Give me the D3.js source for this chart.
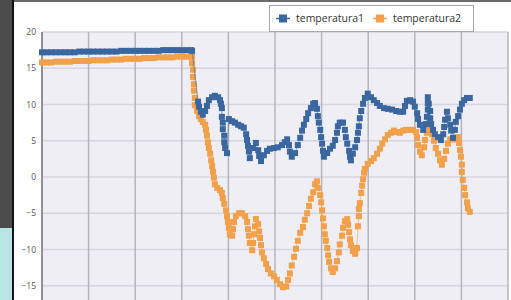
<!DOCTYPE html>
<meta charset="utf-8">

<head>
    <title>Temperatura</title>
</head>

<style>
    body { margin: 0; background: #fff; }
    svg { display: block; }
    text { font-family: "Open Sans", sans-serif; }
</style>

<body>
    <svg width="511" height="300"></svg>

    <script src="https://cdnjs.cloudflare.com/ajax/libs/d3/7.8.5/d3.min.js"></script>
    <script>
        var width = 511, height = 300

        var seriesNames = ['temperatura1', 'temperatura2']
        var yTicks = [20, 15, 10, 5, 0, -5, -10, -15]
        var xTicks = [0, 1, 2, 3, 4, 5, 6, 7, 8, 9, 10]

        // [time, value]
        var temp1 = [
            [0.0, 17.2], [0.1, 17.2], [0.2, 17.2], [0.3, 17.2], [0.4, 17.2], [0.5, 17.2], [0.6, 17.2],
            [0.7, 17.2], [0.8, 17.3], [0.9, 17.3], [1.0, 17.3], [1.1, 17.3], [1.2, 17.3], [1.3, 17.3],
            [1.4, 17.3], [1.5, 17.3], [1.6, 17.3], [1.7, 17.4], [1.8, 17.4], [1.9, 17.4], [2.0, 17.4],
            [2.1, 17.4], [2.2, 17.4], [2.3, 17.4], [2.4, 17.4], [2.5, 17.4], [2.6, 17.5], [2.7, 17.5],
            [2.8, 17.5], [2.9, 17.5], [3.0, 17.5], [3.1, 17.5], [3.2, 17.5], [3.22, 17.4],
            [3.35, 10.4], [3.37, 9.7], [3.41, 9.0], [3.45, 8.6], [3.50, 9.1], [3.54, 9.8], [3.58, 10.6],
            [3.65, 11.0], [3.71, 11.2], [3.78, 11.0], [3.82, 10.6], [3.84, 10.1], [3.86, 9.5],
            [3.86, 8.3], [3.88, 7.5], [3.88, 6.6], [3.91, 5.7], [3.91, 4.8], [3.93, 4.0], [3.97, 3.3],
            [4.01, 8.0], [4.08, 7.7], [4.14, 7.5], [4.21, 7.2], [4.27, 7.0], [4.33, 6.8], [4.38, 5.9],
            [4.40, 5.1], [4.42, 4.3], [4.44, 3.5], [4.46, 2.6], [4.53, 4.0], [4.59, 4.7], [4.64, 3.7],
            [4.66, 2.9], [4.70, 2.2], [4.76, 3.0], [4.83, 3.6], [4.89, 3.9], [4.98, 4.0], [5.06, 4.1],
            [5.15, 4.4], [5.21, 4.8], [5.26, 5.2], [5.30, 4.4], [5.32, 3.5], [5.36, 2.8], [5.43, 3.3],
            [5.49, 4.4], [5.54, 5.4], [5.58, 6.4], [5.62, 7.2], [5.67, 8.0], [5.71, 8.8], [5.77, 9.5],
            [5.82, 10.1], [5.86, 10.2], [5.90, 9.4], [5.92, 8.4], [5.94, 7.5], [5.97, 6.5], [5.99, 5.5],
            [6.01, 4.6], [6.03, 3.6], [6.05, 2.8], [6.12, 3.3], [6.18, 3.9], [6.24, 4.3], [6.29, 5.1],
            [6.33, 6.1], [6.35, 7.0], [6.39, 7.5], [6.46, 7.5], [6.50, 6.5], [6.52, 5.5], [6.55, 4.6],
            [6.59, 3.6], [6.61, 2.8], [6.63, 2.3], [6.67, 3.2], [6.72, 4.1], [6.76, 5.1], [6.78, 6.1],
            [6.80, 7.0], [6.82, 8.1], [6.85, 9.1], [6.89, 10.1], [6.93, 10.9], [6.99, 11.5], [7.06, 11.0],
            [7.12, 10.6], [7.19, 10.2], [7.25, 9.8], [7.34, 9.5], [7.42, 9.4], [7.51, 9.3], [7.60, 9.1],
            [7.68, 9.0], [7.75, 9.0], [7.79, 9.8], [7.83, 10.5], [7.90, 10.6], [7.96, 10.4], [8.00, 9.7],
            [8.05, 8.8], [8.07, 8.0], [8.11, 7.2], [8.18, 6.5], [8.24, 7.3], [8.26, 8.3], [8.28, 9.3],
            [8.28, 10.2], [8.28, 11.0], [8.30, 10.1], [8.33, 9.1], [8.33, 8.1], [8.35, 7.3], [8.39, 6.5],
            [8.43, 5.9], [8.50, 5.5], [8.56, 5.1], [8.61, 5.9], [8.63, 6.9], [8.65, 7.9], [8.69, 9.0],
            [8.71, 8.1], [8.76, 7.2], [8.78, 6.4], [8.82, 5.4], [8.86, 6.5], [8.88, 7.6], [8.93, 8.4],
            [8.97, 9.3], [9.01, 10.1], [9.06, 10.6], [9.12, 10.9], [9.18, 10.9]
        ]

        var temp2 = [
            [0.0, 15.8], [0.1, 15.8], [0.2, 15.8], [0.3, 15.9], [0.4, 15.9], [0.5, 15.9], [0.6, 15.9],
            [0.7, 16.0], [0.8, 16.0], [0.9, 16.0], [1.0, 16.0], [1.1, 16.1], [1.2, 16.1], [1.3, 16.1],
            [1.4, 16.1], [1.5, 16.2], [1.6, 16.2], [1.7, 16.2], [1.8, 16.3], [1.9, 16.3], [2.0, 16.3],
            [2.1, 16.3], [2.2, 16.4], [2.3, 16.4], [2.4, 16.4], [2.5, 16.5], [2.6, 16.5], [2.7, 16.5],
            [2.8, 16.5], [2.9, 16.6], [3.0, 16.6], [3.1, 16.6], [3.2, 16.6], [3.22, 16.6],
            [3.22, 15.7], [3.24, 14.8], [3.24, 13.8], [3.26, 12.8], [3.26, 11.9], [3.28, 10.9], [3.28, 9.9],
            [3.33, 9.1], [3.37, 8.4], [3.41, 8.0], [3.45, 7.6], [3.50, 7.2], [3.52, 6.5], [3.54, 5.7],
            [3.56, 4.8], [3.58, 4.0], [3.61, 3.2], [3.63, 2.3], [3.65, 1.5], [3.67, 0.7], [3.69, -0.1],
            [3.71, -1.0], [3.76, -1.5], [3.82, -1.8], [3.86, -2.2], [3.88, -2.9], [3.91, -3.7], [3.95, -4.6],
            [3.97, -5.4], [3.99, -6.2], [4.01, -7.0], [4.03, -7.9], [4.08, -8.1], [4.10, -7.2], [4.12, -6.2],
            [4.16, -5.4], [4.23, -5.0], [4.29, -5.0], [4.36, -5.4], [4.40, -6.2], [4.42, -7.2], [4.44, -8.1],
            [4.46, -9.1], [4.51, -10.1], [4.53, -9.1], [4.55, -7.9], [4.57, -6.8], [4.59, -5.8], [4.64, -6.5],
            [4.66, -7.5], [4.68, -8.4], [4.70, -9.4], [4.72, -10.4], [4.76, -11.2], [4.81, -12.0],
            [4.85, -12.7], [4.91, -13.3], [4.98, -13.7], [5.04, -14.2], [5.11, -14.8], [5.17, -15.2],
            [5.24, -15.1], [5.28, -14.2], [5.32, -13.3], [5.36, -12.2], [5.41, -11.0], [5.45, -9.9],
            [5.49, -8.8], [5.54, -7.7], [5.60, -6.9], [5.64, -5.9], [5.69, -5.0], [5.73, -4.0], [5.77, -3.0],
            [5.82, -2.1], [5.86, -1.0], [5.90, -0.6], [5.92, -1.5], [5.97, -2.5], [5.99, -3.5], [6.01, -4.6],
            [6.03, -5.7], [6.05, -6.8], [6.07, -7.9], [6.09, -8.8], [6.12, -9.8], [6.14, -10.8],
            [6.16, -11.7], [6.20, -12.6], [6.24, -13.1], [6.29, -12.6], [6.33, -11.6], [6.37, -10.4],
            [6.39, -9.3], [6.44, -8.1], [6.46, -7.0], [6.50, -6.1], [6.55, -5.8], [6.57, -6.6], [6.59, -7.6],
            [6.61, -8.6], [6.63, -9.4], [6.67, -10.2], [6.72, -10.6], [6.76, -9.8],
            [6.78, -6.8], [6.80, -5.4], [6.80, -4.4], [6.82, -3.6], [6.85, -2.2], [6.87, -1.2], [6.89, -0.3],
            [6.91, 0.6], [6.93, 1.1], [6.99, 1.8], [7.06, 2.2], [7.12, 2.6], [7.19, 3.2], [7.25, 3.9],
            [7.30, 4.6], [7.36, 5.2], [7.42, 5.8], [7.49, 6.1], [7.55, 6.4], [7.62, 6.2], [7.68, 6.1],
            [7.75, 6.4], [7.81, 6.5], [7.90, 6.5], [7.96, 6.5], [8.03, 6.2], [8.05, 5.4], [8.07, 4.4],
            [8.11, 3.5], [8.15, 3.0], [8.20, 4.1], [8.22, 5.1], [8.26, 6.1], [8.28, 7.0], [8.33, 6.8],
            [8.37, 5.9], [8.41, 5.0], [8.45, 4.0], [8.50, 3.2], [8.54, 2.3], [8.58, 1.7], [8.63, 2.5],
            [8.67, 3.6], [8.71, 4.6], [8.76, 5.2], [8.82, 5.2], [8.88, 5.2], [8.93, 5.5], [8.95, 4.7],
            [8.97, 3.7], [8.99, 2.8], [9.01, 1.7], [9.01, 0.7], [9.03, -0.4], [9.06, -1.5], [9.08, -2.5],
            [9.12, -3.5], [9.14, -4.3], [9.18, -4.8]
        ]

        var colors = ['#3a67a0', '#f2a04a']
        var markerSize = 6

        var svg = d3.select('svg')

        // page bits around the chart
        svg.append('rect').attr('x', 0).attr('y', 0).attr('width', 12).attr('height', 228).attr('fill', '#4b4b4b')
        svg.append('rect').attr('x', 0).attr('y', 228).attr('width', 12).attr('height', 72).attr('fill', '#b7e5e5')
        svg.append('rect').attr('x', 12).attr('y', 0).attr('width', 2).attr('height', 300).attr('fill', '#111')
        svg.append('rect').attr('x', 14).attr('y', 0).attr('width', 497).attr('height', 2).attr('fill', '#6a6a6a')

        var x = d3.scaleLinear().domain([0, 10]).range([42, 508])
        var y = d3.scaleLinear().domain([-20, 20]).range([322, 32])

        // plot background
        svg.append('rect')
            .attr('x', x(0)).attr('y', y(20))
            .attr('width', x(10) - x(0)).attr('height', height - y(20))
            .attr('fill', '#eeeef4')

        // horizontal grid
        svg.append('g')
            .selectAll('line')
            .data(yTicks)
            .enter()
            .append('line')
            .attr('x1', x(0)).attr('x2', x(10))
            .attr('y1', function (d) { return y(d) })
            .attr('y2', function (d) { return y(d) })
            .attr('stroke', '#d6d6e2')
            .attr('stroke-width', 1.5)

        // vertical grid
        svg.append('g')
            .selectAll('line')
            .data(xTicks)
            .enter()
            .append('line')
            .attr('x1', function (d) { return x(d) })
            .attr('x2', function (d) { return x(d) })
            .attr('y1', y(20)).attr('y2', height)
            .attr('stroke', function (d) { return d === 0 ? '#8f8f96' : '#b4b4bc' })
            .attr('stroke-width', function (d) { return d === 0 ? 2 : 1.5 })

        // y axis labels
        var yAxis = d3.axisLeft(y).tickValues(yTicks).tickSize(0).tickPadding(6)
        var ga = svg.append('g').attr('transform', 'translate(' + x(0) + ',0)').call(yAxis)
        ga.select('.domain').remove()
        ga.selectAll('text').attr('fill', '#555').style('font-size', '8.5px')

        var line = d3.line()
            .x(function (d) { return x(d[0]) })
            .y(function (d) { return y(d[1]) })

        var all = [temp1, temp2]
        // draw orange first so blue sits on top
        ;[1, 0].forEach(function (i) {
            var g = svg.append('g')
            g.append('path')
                .attr('d', line(all[i]))
                .attr('fill', 'none')
                .attr('stroke', colors[i])
                .attr('stroke-opacity', 0.5)
                .attr('stroke-width', 1.2)
            g.selectAll('rect')
                .data(all[i])
                .enter()
                .append('rect')
                .attr('x', function (d) { return x(d[0]) - markerSize / 2 })
                .attr('y', function (d) { return y(d[1]) - markerSize / 2 })
                .attr('width', markerSize)
                .attr('height', markerSize)
                .attr('fill', colors[i])
        })

        // legend
        var lg = svg.append('g')
        lg.append('rect')
            .attr('x', 269.5).attr('y', 5.5).attr('width', 204).attr('height', 26)
            .attr('fill', '#fff').attr('stroke', '#a8a8a8')
        var legX = [283, 380]
        seriesNames.forEach(function (name, i) {
            lg.append('line')
                .attr('x1', legX[i] - 7).attr('x2', legX[i] + 7)
                .attr('y1', 18.5).attr('y2', 18.5)
                .attr('stroke', colors[i]).attr('stroke-width', 1.5)
            lg.append('rect')
                .attr('x', legX[i] - 4).attr('y', 14.5).attr('width', 8).attr('height', 8)
                .attr('fill', colors[i])
            lg.append('text')
                .attr('x', legX[i] + 13).attr('y', 22)
                .attr('fill', '#333')
                .style('font-size', '10.5px')
                .text(name)
        })
    </script>
</body>

</html>
